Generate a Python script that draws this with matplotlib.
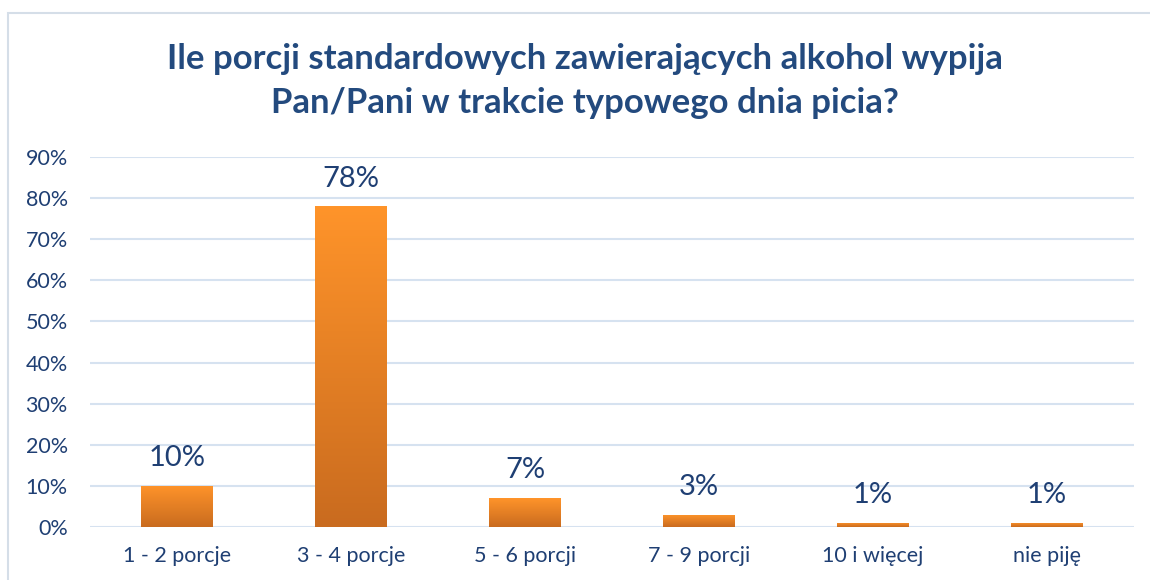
import numpy as np
import matplotlib
matplotlib.use("Agg")
import matplotlib.pyplot as plt
from matplotlib.patches import Rectangle
from matplotlib.colors import LinearSegmentedColormap

categories = ["1 - 2 porcje", "3 - 4 porcje", "5 - 6 porcji", "7 - 9 porcji", "10 i więcej", "nie piję"]
values = [0.10, 0.78, 0.07, 0.03, 0.01, 0.01]
labels = ["10%", "78%", "7%", "3%", "1%", "1%"]
yticks = [0.0, 0.1, 0.2, 0.3, 0.4, 0.5, 0.6, 0.7, 0.8, 0.9]

title = "Ile porcji standardowych zawierających alkohol wypija\nPan/Pani w trakcie typowego dnia picia?"

text_col = "#1F3F73"
grid_col = "#D6E2F0"
plt.rcParams["font.family"] = ["Lato", "DejaVu Sans"]

fig = plt.figure(figsize=(11.5, 5.8), dpi=100)
# ramka wykresu
fig.patches.append(Rectangle((8 / 1150, -0.05), 1.2, 1 - 13 / 580 + 0.05,
                             transform=fig.transFigure, fill=False,
                             edgecolor="#D5DEE8", linewidth=1.5))

ax = fig.add_axes([90 / 1150, 1 - 527 / 580, 1044 / 1150, 370 / 580])
x = np.arange(len(categories))
bars = ax.bar(x, values, width=0.41, color="#F08A2A", zorder=3)

# gradient w słupkach (jasny pomarańcz u góry, ciemniejszy u dołu)
cmap = LinearSegmentedColormap.from_list("orng", ["#C96B1F", "#FF942A"])
grad = np.linspace(0, 1, 256).reshape(-1, 1)
for b in bars:
    x0, y0 = b.get_x(), b.get_y()
    w, h = b.get_width(), b.get_height()
    im = ax.imshow(grad, cmap=cmap, origin="lower", aspect="auto",
                   extent=[x0, x0 + w, y0, y0 + h], zorder=4)
    im.set_clip_path(b)

for xi, v, lab in zip(x, values, labels):
    ax.text(xi, v + 0.036, lab, ha="center", va="bottom", fontsize=21, color=text_col)

ax.set_xlim(-0.5, len(categories) - 0.5)
ax.set_ylim(0, 0.9)
ax.set_yticks(yticks)
ax.set_yticklabels([f"{int(round(t * 100))}%" for t in yticks])
ax.set_xticks(x)
ax.set_xticklabels(categories)
ax.tick_params(axis="both", length=0, labelsize=15.5, labelcolor=text_col)
ax.tick_params(axis="y", pad=16)
ax.tick_params(axis="x", pad=14)
ax.grid(axis="y", color=grid_col, linewidth=1.5, zorder=0)
for s in ax.spines.values():
    s.set_visible(False)

fig.text(585 / 1150, 1 - 81 / 580, title, ha="center", va="center",
         fontsize=25, fontweight="bold", color="#234A7E", linespacing=1.45)

fig.savefig("out.png", dpi=100)
